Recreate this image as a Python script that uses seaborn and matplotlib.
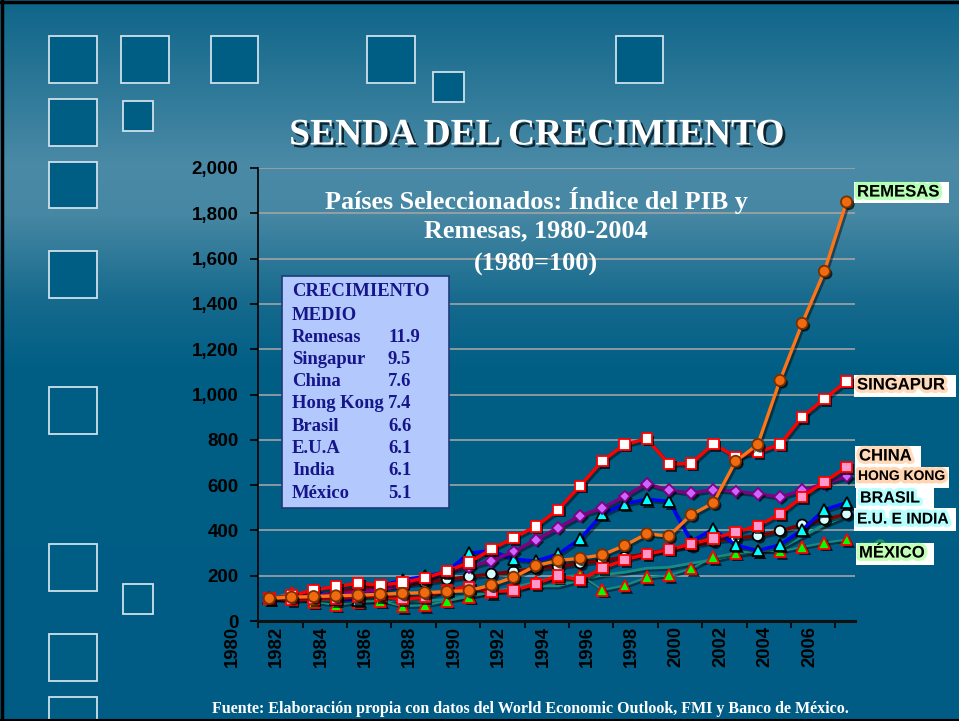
import numpy as np
import pandas as pd
import matplotlib
matplotlib.use("Agg")
import matplotlib.pyplot as plt
import matplotlib.patheffects as pe
from matplotlib.patches import Rectangle
import seaborn as sns

# ---------------- data (index 1980 = 100) ----------------
years = list(range(1980, 2007))
remesas = [100, 105, 108, 111, 114, 118, 122, 125, 130, 134, 159, 193, 244, 267, 277, 292,
           333, 385, 375, 469, 521, 705, 779, 1062, 1314, 1544, 1850]
singapur = [100, 112, 137, 152, 167, 158, 170, 190, 220, 258, 317, 366, 418, 491, 597, 707,
            779, 805, 693, 695, 782, 724, 745, 779, 901, 981, 1058]
china = [100, 93, 97, 100, 106, 110, 96, 105, 137, 150, 130, 134, 164, 200, 181, 233,
         270, 295, 315, 340, 365, 392, 420, 472, 548, 614, 680]
hongkong = [100, 108, 112, 118, 130, 135, 160, 185, 218, 240, 265, 307, 358, 411, 465, 499,
            550, 606, 577, 565, 580, 572, 562, 547, 577, 606, 638]
brasil = [100, 110, 133, 96, 93, 155, 181, 197, 218, 300, 311, 273, 265, 295, 363, 472,
          518, 538, 528, 351, 406, 336, 311, 336, 403, 491, 523]
eua = [100, 105, 110, 125, 145, 150, 159, 170, 184, 196, 208, 218, 233, 240, 255, 267,
       282, 296, 317, 332, 352, 366, 376, 398, 425, 448, 472]
india = [100, 97, 93, 90, 88, 88, 90, 88, 95, 110, 128, 146, 155, 155, 181, 204,
         215, 233, 237, 255, 270, 292, 307, 320, 373, 425, 465]
mexico = [100, 125, 85, 71, 85, 90, 65, 70, 88, 107, 127, 149, 174, 196, 204, 137,
          157, 193, 202, 232, 282, 300, 311, 307, 327, 346, 360]

ytick_values = list(range(0, 2001, 200))
xtick_labels = [str(y) for y in range(1980, 2007, 2)]

title = "SENDA DEL CRECIMIENTO"
subtitle = ["Países Seleccionados: Índice del PIB y", "Remesas, 1980-2004", "(1980=100)"]
box_header = ["CRECIMIENTO", "MEDIO"]
box_names = ["Remesas", "Singapur", "China", "Hong Kong", "Brasil", "E.U.A", "India", "México"]
box_values = ["11.9", "9.5", "7.6", "7.4", "6.6", "6.1", "6.1", "5.1"]
end_labels = ["REMESAS", "SINGAPUR", "CHINA", "HONG KONG", "BRASIL", "E.U. E INDIA", "MÉXICO"]
footer = "Fuente: Elaboración propia con datos del World Economic Outlook, FMI y Banco de México."

df = pd.DataFrame({"year": years, "Remesas": remesas, "Singapur": singapur, "China": china,
                   "Hong Kong": hongkong, "Brasil": brasil, "EUA": eua, "India": india,
                   "México": mexico})

# ---------------- figure ----------------
sns.set_style("ticks")
plt.rcParams["font.family"] = ["Liberation Sans", "DejaVu Sans"]
plt.rcParams["text.color"] = "black"
W, H = 959, 721
fig = plt.figure(figsize=(W / 100, H / 100), dpi=100)

# background gradient
bg = fig.add_axes([0, 0, 1, 1], zorder=0)
stops_y = [0, 165, 215, 300, 370, 721]
stops_c = [(14, 101, 137), (74, 138, 166), (70, 135, 163), (22, 106, 141), (0, 94, 133), (0, 92, 132)]
yy = np.arange(H)
cols = np.stack([np.interp(yy, stops_y, [c[k] for c in stops_c]) for k in range(3)], axis=1) / 255
img = np.repeat(cols[:, None, :], 2, axis=1)
bg.imshow(img, extent=(0, W, H, 0), aspect="auto", zorder=0)
bg.set_xlim(0, W)
bg.set_ylim(H, 0)
bg.axis("off")

squares = [(49, 36, 97, 83), (121, 36, 169, 83), (211, 36, 258, 83), (367, 36, 415, 83),
           (616, 36, 663, 83), (433, 72, 464, 102), (49, 99, 97, 146), (123, 101, 153, 131),
           (49, 162, 97, 208), (49, 251, 97, 298), (49, 387, 97, 434), (49, 544, 97, 591),
           (123, 584, 153, 614), (49, 634, 97, 681), (49, 697, 97, 740)]
for x0, y0, x1, y1 in squares:
    bg.add_patch(Rectangle((x0, y0), x1 - x0, y1 - y0, facecolor="#005e85",
                           edgecolor="#cfe0ea", lw=1.3, zorder=2))

# main axes
ax = fig.add_axes([258 / W, 1 - 621 / H, (855 - 258) / W, (621 - 168) / H], zorder=2)
ax.patch.set_alpha(0)

styles = [
    ("India", "#168c86", 2.0, None, None, None, 0, 3),
    ("México", "#1f8a7a", 1.4, "^", "#00ff00", "#ff0000", 8.5, 4),
    ("EUA", "#800000", 2.4, "o", "#d8ffff", "black", 7.5, 5),
    ("Brasil", "#0000ff", 2.4, "^", "#00ffff", "black", 8.5, 6),
    ("Hong Kong", "#800080", 2.4, "D", "#cc66ff", "#800080", 6, 7),
    ("China", "#ff0000", 2.4, "s", "#ff99cc", "#ff0000", 7.5, 8),
    ("Singapur", "#ff0000", 2.4, "s", "white", "#ff0000", 7.5, 9),
    ("Remesas", "#ff7414", 2.4, "o", "#f06a10", "#7a3000", 8, 10),
]
line_fx = [pe.SimpleLineShadow(offset=(1.5, -1.5), shadow_color="black", alpha=0.45), pe.Normal()]
mark_fx = [pe.SimplePatchShadow(offset=(1.8, -1.8), shadow_rgbFace="black", alpha=0.7), pe.Normal()]
for name, lc, lw, mk, mfc, mec, ms, z in styles:
    sns.lineplot(data=df, x="year", y=name, ax=ax, color=lc, linewidth=lw, errorbar=None,
                 zorder=z, path_effects=line_fx, legend=False)
    if mk:
        sns.lineplot(data=df, x="year", y=name, ax=ax, color=lc, linestyle="none", marker=mk,
                     markersize=ms, markerfacecolor=mfc, markeredgecolor=mec,
                     markeredgewidth=1.3, errorbar=None, zorder=z + 0.5,
                     path_effects=mark_fx, legend=False)

ax.set_xlim(1980 - 0.509, 1980 + 26.38)
ax.set_ylim(0, 2000)
ax.set_xlabel("")
ax.set_ylabel("")
ax.set_yticks(ytick_values)
ax.set_yticklabels([f"{v:,}" for v in ytick_values], fontsize=13.5, fontweight="bold",
                   family=["Liberation Sans"], color="black")
ax.set_xticks([1979.5 + 2 * k for k in range(14)])
ax.set_xticklabels([])
ax.tick_params(axis="y", direction="out", length=6, width=1.2, color="black", pad=8,
               labelcolor="black")
ax.tick_params(axis="x", direction="out", length=5, width=1.2, color="black")
ax.yaxis.grid(True, color="#a3a3a3", lw=1.2)
ax.set_axisbelow(True)
for s in ["top", "right"]:
    ax.spines[s].set_visible(False)
ax.spines["left"].set_color("black")
ax.spines["left"].set_linewidth(1.2)
ax.spines["bottom"].set_color("#111111")
ax.spines["bottom"].set_linewidth(2.2)

xt = ax.get_xaxis_transform()
for j, lab in enumerate(xtick_labels):
    ax.text(1980 + 2 * (j - 1) + 0.33, -0.011, lab, transform=xt, rotation=90, ha="center",
            va="top", fontsize=13.3, fontweight="bold", color="black", clip_on=False,
            family=["Liberation Sans"])

# overlay
fg = fig.add_axes([0, 0, 1, 1], zorder=5)
fg.set_xlim(0, W)
fg.set_ylim(H, 0)
fg.axis("off")
fg.patch.set_alpha(0)

fg.text(537, 135, title, ha="center", va="center", fontsize=27, fontweight="bold",
        family=["Liberation Serif"], color="white",
        path_effects=[pe.withSimplePatchShadow(offset=(2, -2), shadow_rgbFace="#0a1a22", alpha=0.9)])
for txt, yc in zip(subtitle, [200, 231, 264]):
    fg.text(536, yc, txt, ha="center", va="center", fontsize=18.8, fontweight="bold",
            family=["Liberation Serif"], color="white")

fg.add_patch(Rectangle((282, 276), 167, 232, facecolor="#b3c9fd", edgecolor="#1f3a78", lw=1.2))
navy = "#16168a"
for txt, yc in zip(box_header, [292, 315]):
    fg.text(292, yc, txt, ha="left", va="center", fontsize=13.4, fontweight="bold",
            family=["Liberation Serif"], color=navy)
for k, (nm, val) in enumerate(zip(box_names, box_values)):
    yc = 337 + k * 22.3
    fg.text(292, yc, nm, ha="left", va="center", fontsize=13.4, fontweight="bold",
            family=["Liberation Serif"], color=navy)
    fg.text(388, yc, val, ha="left", va="center", fontsize=13.4, fontweight="bold",
            family=["Liberation Serif"], color=navy)

label_boxes = [(854, 182, 949, 203), (854, 375, 956, 397), (855, 446, 921, 467),
               (855, 467, 949, 488), (856, 488, 934, 510), (854, 508, 956, 531),
               (856, 543, 934, 565)]
label_y = [192, 385, 456, 476, 498, 519, 553]
label_x = [857, 857, 859, 858, 860, 857, 859]
label_fs = [12, 12, 12, 10, 11.6, 11.2, 12]
glow = ["#33ff33", "#ff9a40", "#ff9a40", "#ff8a20", "#33ffff", "#33ffff", "#55ff33"]
for lab, (x0, y0, x1, y1), yc, xl, fs, gc in zip(end_labels, label_boxes, label_y, label_x,
                                                  label_fs, glow):
    fg.add_patch(Rectangle((x0, y0), x1 - x0, y1 - y0, facecolor="white", edgecolor="none"))
    fg.text(xl, yc, lab, ha="left", va="center", fontsize=fs, fontweight="bold", color="black",
            family=["Liberation Sans"],
            path_effects=[pe.Stroke(linewidth=5, foreground=gc, alpha=0.35), pe.Normal()])

fg.text(530, 709, footer, ha="center", va="center", fontsize=11.5, fontweight="bold",
        family=["Liberation Serif"], color="white")

# frame
fg.plot([0, W], [1.5, 1.5], color="black", lw=2.5)
fg.plot([1.5, 1.5], [0, H], color="black", lw=2.5)
fg.plot([0, W], [H - 1, H - 1], color="black", lw=1.5)

fig.savefig("out.png", dpi=100)
